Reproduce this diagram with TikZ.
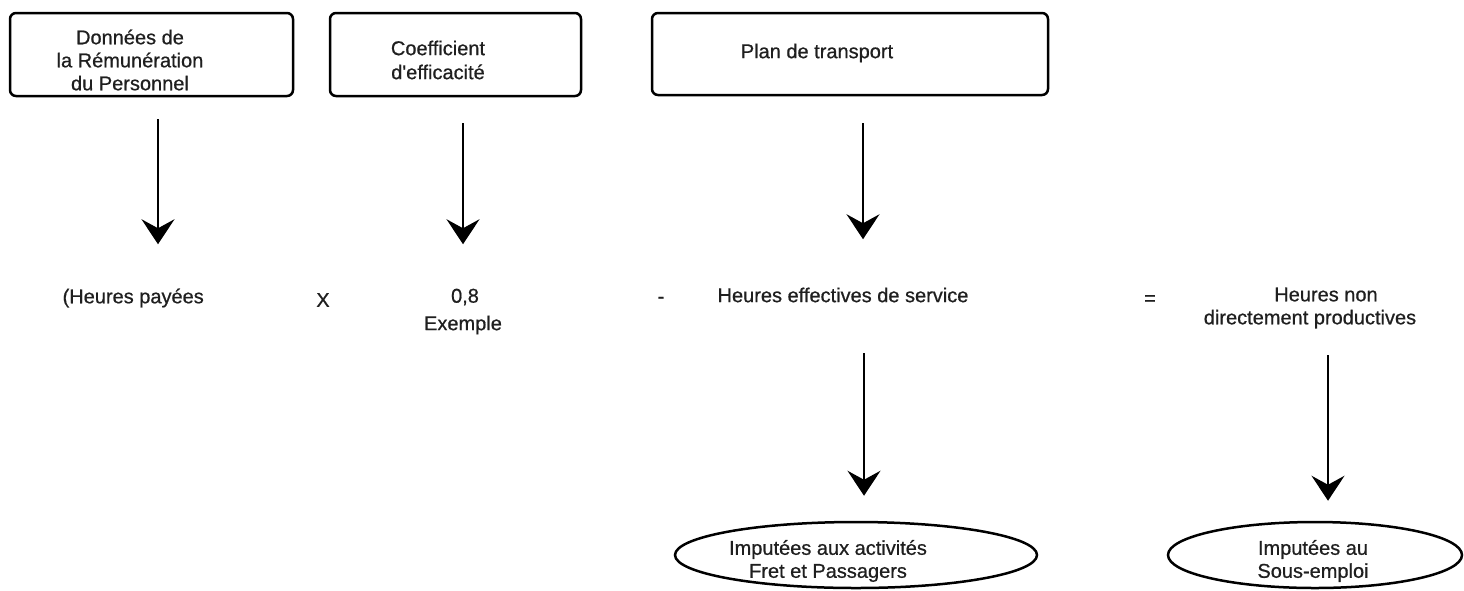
\documentclass[tikz,border=0pt]{standalone}
\usepackage{fontspec}
\setmainfont[FakeBold=0.7]{Liberation Sans}
\usetikzlibrary{arrows.meta,shapes.geometric,calc}
\begin{document}
\begin{tikzpicture}[x=1pt,y=-1pt,
  txt/.style={inner sep=0pt,align=center,text=black!88,font=\fontsize{20}{23}\selectfont},
  boxshape/.style={draw,line width=2.5pt,rounded corners=6pt,inner sep=0pt},
  ovalshape/.style={draw,ellipse,line width=2.5pt,inner sep=0pt},
  arr/.style={line width=1.8pt,-{Stealth[length=25pt,width=33pt,inset=9pt]}}]
\useasboundingbox (0,0) rectangle (1464,590);
% boxes
\node[boxshape,minimum width=283pt,minimum height=83pt] (b1) at (151.5,54.5) {};
\node[boxshape,minimum width=251pt,minimum height=83pt] (b2) at (455.5,54.5) {};
\node[boxshape,minimum width=396pt,minimum height=82pt] (b3) at (850,54) {};
\node[txt] (t1) at (130,60) {Données de\\la Rémunération\\du Personnel};
\node[txt,font=\fontsize{20}{24}\selectfont] (t2) at (438,60) {Coefficient\\d\textquotesingle efficacité};
\node[txt] (t3) at (817,53) {Plan de transport};
% middle row
\node[txt,anchor=east] (hp) at (204,298) {(Heures payées};
\node[txt] (fois) at (323,300) {X};
\node[txt] (coef) at (465,297) {0,8};
\node[txt] (ex) at (463,325) {Exemple};
\node[txt] (moins) at (661,300) {-};
\node[txt] (hs) at (843,295) {Heures effectives de service};
\node[txt] (egal) at (1150,300) {=};
\node[txt] (hn) at (1310,308) {\hspace*{32pt}Heures non\\directement productives};
% ellipses
\node[ovalshape,minimum width=362pt,minimum height=66pt] (e1) at (856,555) {};
\node[txt] (e1t) at (828,561) {Imputées aux activités\\Fret et Passagers};
\node[ovalshape,minimum width=294pt,minimum height=66pt] (e2) at (1315,555) {};
\node[txt] (e2t) at (1313,561) {Imputées au\\Sous-emploi};
% arrows
\draw[arr] ($(b1.south)+(6.5,22)$) -- ($(b1.south)+(6.5,147)$);
\draw[arr] ($(b2.south)+(7.5,26)$) -- ($(b2.south)+(7.5,147)$);
\draw[arr] ($(b3.south)+(13,27)$) -- ($(b3.south)+(13,143)$);
\draw[arr] ($(hs)+(21,58)$) -- ($(e1.north)+(8,-25)$);
\draw[arr] ($(hn)+(18,47)$) -- ($(e2.north)+(13,-20)$);
\end{tikzpicture}
\end{document}
